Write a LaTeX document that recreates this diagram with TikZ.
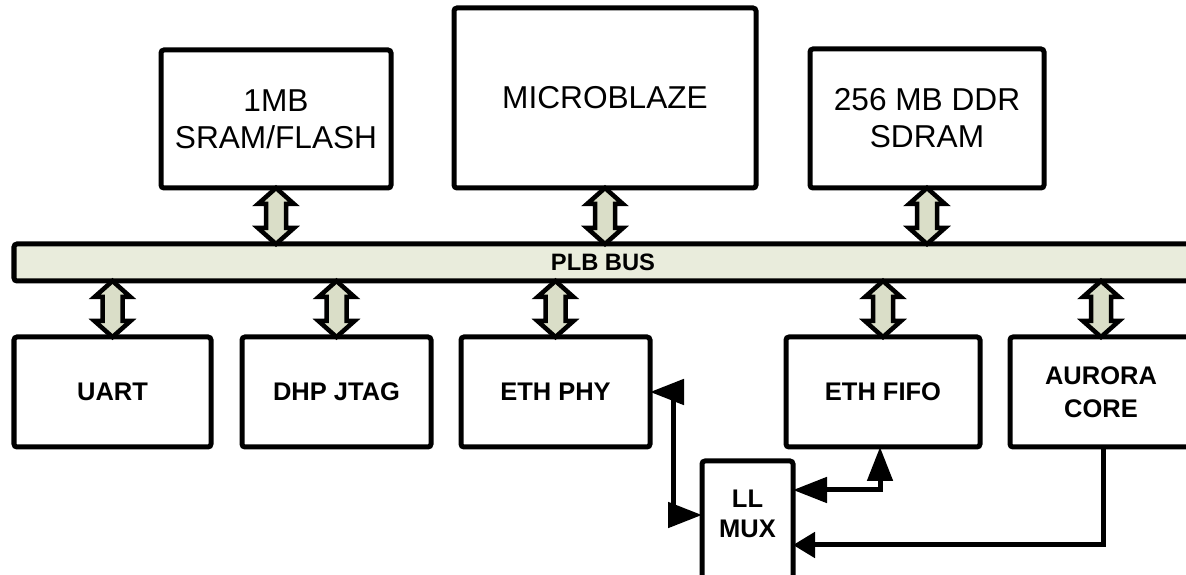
\documentclass[tikz,border=0pt]{standalone}
\usepackage{fontspec}
\setmainfont{Liberation Sans}
\usetikzlibrary{positioning,arrows.meta,calc}

\definecolor{busfill}{RGB}{233,236,220}
\definecolor{arrowfill}{RGB}{218,222,200}

% hollow double arrow between a block and the bus
\newcommand{\busarrow}[2]{%
	\draw[busarrow] ($(#1)$) -- ($(#1)+(0.36,-0.32)$) -- ($(#1)+(0.2,-0.32)$)
		-- ($(#2)+(0.2,0.32)$) -- ($(#2)+(0.36,0.32)$) -- ($(#2)$)
		-- ($(#2)+(-0.36,0.32)$) -- ($(#2)+(-0.2,0.32)$)
		-- ($(#1)+(-0.2,-0.32)$) -- ($(#1)+(-0.36,-0.32)$) -- cycle;}

\begin{document}
\begin{tikzpicture}[
	  box/.style={draw, line width=0.1cm, rounded corners=0.06cm, fill=white, outer sep=0pt, inner sep=0pt, align=center},
	  toptext/.style={font=\fontsize{18}{21}\selectfont},
	  bottext/.style={font=\fontsize{14.5}{17}\selectfont\bfseries},
	  bustext/.style={font=\fontsize{13.5}{16}\selectfont\bfseries},
	  busarrow/.style={draw, line width=0.09cm, fill=arrowfill, line join=miter},
	  link/.style={line width=0.1cm, line join=miter},
	  >={Triangle[length=0.68cm,width=0.5cm]},
	]
	\useasboundingbox (0,0) rectangle (23.72,-11.5);
	
	% Top blocks
	\node[box, toptext, minimum width=4.6cm, minimum height=2.76cm] (sram) at (5.52,-2.38) {1MB\\SRAM/FLASH};
	\node[box, toptext, minimum width=6.04cm, minimum height=3.6cm, right=1.26cm of sram.south east, anchor=south west] (micro) {MICROBLAZE};
	\node[box, toptext, minimum width=4.68cm, minimum height=2.78cm, right=1.08cm of micro.south east, anchor=south west] (sdram) {256 MB DDR\\SDRAM};
	
	% Bus
	\node[box, bustext, fill=busfill, minimum width=23.56cm, minimum height=0.74cm] (bus) at (12.06,-5.25) {PLB BUS};
	
	% Bottom blocks
	\node[box, bottext, minimum width=3.94cm, minimum height=2.2cm] (uart) at (2.25,-7.84) {UART};
	\node[box, bottext, minimum width=3.78cm, minimum height=2.2cm, right=0.62cm of uart] (jtag) {DHP JTAG};
	\node[box, bottext, minimum width=3.78cm, minimum height=2.2cm, right=0.6cm of jtag] (phy) {ETH PHY};
	\node[box, bottext, minimum width=3.88cm, minimum height=2.2cm, right=2.72cm of phy] (fifo) {ETH FIFO};
	\node[box, bottext, minimum width=3.64cm, minimum height=2.2cm, right=0.6cm of fifo] (aurora) {AURORA\\[2pt]CORE};
	
	% Mux
	\node[box, bottext, minimum width=1.82cm, inner ysep=0.58cm, text depth=2.5cm, anchor=north] (mux) at (14.95,-9.22) {LL\\MUX};
	
	% Bus connections
	\busarrow{sram.south}{bus.north -| sram.south}
	\busarrow{micro.south}{bus.north -| micro.south}
	\busarrow{sdram.south}{bus.north -| sdram.south}
	\busarrow{bus.south -| uart.north}{uart.north}
	\busarrow{bus.south -| jtag.north}{jtag.north}
	\busarrow{bus.south -| phy.north}{phy.north}
	\busarrow{bus.south -| fifo.north}{fifo.north}
	\busarrow{bus.south -| aurora.north}{aurora.north}
	
	% Mux links
	\coordinate (phybend) at (13.46,-10.3);
	\coordinate (fifobend) at (17.6,-9.8);
	\coordinate (aurorabend) at (22.06,-10.9);
	\draw[link, <->] (phy.east) -| (phybend) -- (mux.west |- phybend);
	\draw[link, <->] (fifo.south -| fifobend) -- (fifobend) -- (mux.east |- fifobend);
	\draw[link, -{Triangle[length=0.44cm,width=0.5cm]}] (aurora.south -| aurorabend) -- (aurorabend) -- (mux.east |- aurorabend);
	
\end{tikzpicture}
\end{document}
